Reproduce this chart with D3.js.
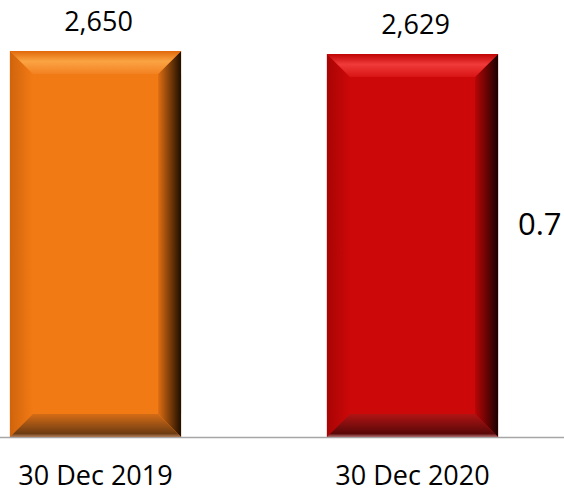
<!DOCTYPE html>
<html>
<head>
<meta charset="utf-8">
<script src="https://cdn.jsdelivr.net/npm/d3@7"></script>
<style>
  body { margin: 0; background: #fff; }
  text { font-family: "Open Sans", sans-serif; fill: #000; }
</style>
</head>
<body>
<svg width="564" height="493"></svg>
<script>
// chart data
var dates = ["30 Dec 2019", "30 Dec 2020"];
var counts = [2650, 2629];
var barColors = ["orange", "red"];
var sideNote = "0.7";

var svg = d3.select("svg"),
    width = 564,
    base = 437;

var xScale = d3.scaleBand().domain(dates).range([-63, 571]).paddingInner(0.46).paddingOuter(0.23),
    yScale = d3.scaleLinear().domain([0, 3000]).range([base, 0]);

// bevel colour sets
var pal = {
  orange: { main: "#F27A14", topA: "#E0680A", topB: "#FBA443", topC: "#F38122",
            leftA: "#D0640C", leftB: "#F27A14", rightA: "#E06E12", rightB: "#1E0E00",
            botA: "#D46C16", botB: "#6E3C12", edge: "#B08060" },
  red:    { main: "#CC0808", topA: "#C00404", topB: "#F03A3A", topC: "#D81414",
            leftA: "#A80404", leftB: "#CC0808", rightA: "#B80606", rightB: "#1A0000",
            botA: "#B01414", botB: "#5A0808", edge: "#B07070" }
};

var defs = svg.append("defs");
function grad(id, vertical, stops) {
  var g = defs.append("linearGradient").attr("id", id)
    .attr("x1", 0).attr("y1", 0).attr("x2", vertical ? 0 : 1).attr("y2", vertical ? 1 : 0);
  stops.forEach(function(s){ g.append("stop").attr("offset", s[0]).attr("stop-color", s[1]); });
}
Object.keys(pal).forEach(function(k){
  var p = pal[k];
  grad(k + "-top", true, [[0, p.topA], [0.45, p.topB], [1, p.topC]]);
  grad(k + "-left", false, [[0, p.leftA], [1, p.leftB]]);
  grad(k + "-right", false, [[0, p.rightA], [1, p.rightB]]);
  grad(k + "-bot", true, [[0, p.botA], [0.85, p.botB], [1, p.edge]]);
});

// baseline
svg.append("line")
  .attr("x1", 0).attr("x2", width)
  .attr("y1", yScale(0) + 0.5).attr("y2", yScale(0) + 0.5)
  .attr("stroke", "#A6A6A6").attr("stroke-width", 1.5);

var b = 23; // bevel size
var bars = svg.selectAll(".bar").data(dates).enter().append("g").attr("class", "bar");

bars.each(function(d, i){
  var g = d3.select(this),
      x0 = xScale(d), x1 = x0 + xScale.bandwidth(),
      y0 = yScale(counts[i]), y1 = yScale(0),
      k = barColors[i];
  g.append("rect").attr("x", x0).attr("y", y0)
    .attr("width", x1 - x0).attr("height", y1 - y0).attr("fill", pal[k].main);
  var pts = {
    top: [[x0, y0], [x1, y0], [x1 - b, y0 + b], [x0 + b, y0 + b]],
    left: [[x0, y0], [x0 + b, y0 + b], [x0 + b, y1 - b], [x0, y1]],
    right: [[x1, y0], [x1, y1], [x1 - b, y1 - b], [x1 - b, y0 + b]],
    bot: [[x0, y1], [x0 + b, y1 - b], [x1 - b, y1 - b], [x1, y1]]
  };
  ["left", "right", "bot", "top"].forEach(function(side){
    g.append("polygon")
      .attr("points", pts[side].map(function(p){ return p.join(","); }).join(" "))
      .attr("fill", "url(#" + k + "-" + side + ")");
  });
});

// value labels
svg.selectAll(".val").data(counts).enter().append("text")
  .attr("class", "val")
  .attr("x", function(d, i){ return xScale(dates[i]) + xScale.bandwidth() / 2 + 3; })
  .attr("y", function(d){ return yScale(d) - 20; })
  .attr("text-anchor", "middle")
  .style("font-size", "27px")
  .text(d3.format(","));

// category labels
svg.selectAll(".cat").data(dates).enter().append("text")
  .attr("class", "cat")
  .attr("x", function(d){ return xScale(d) + xScale.bandwidth() / 2; })
  .attr("y", 485)
  .attr("text-anchor", "middle")
  .style("font-size", "27px")
  .text(function(d){ return d; });

// cut-off note at right
svg.append("text")
  .attr("x", 518).attr("y", 235)
  .style("font-size", "31px")
  .text(sideNote);
</script>
</body>
</html>
